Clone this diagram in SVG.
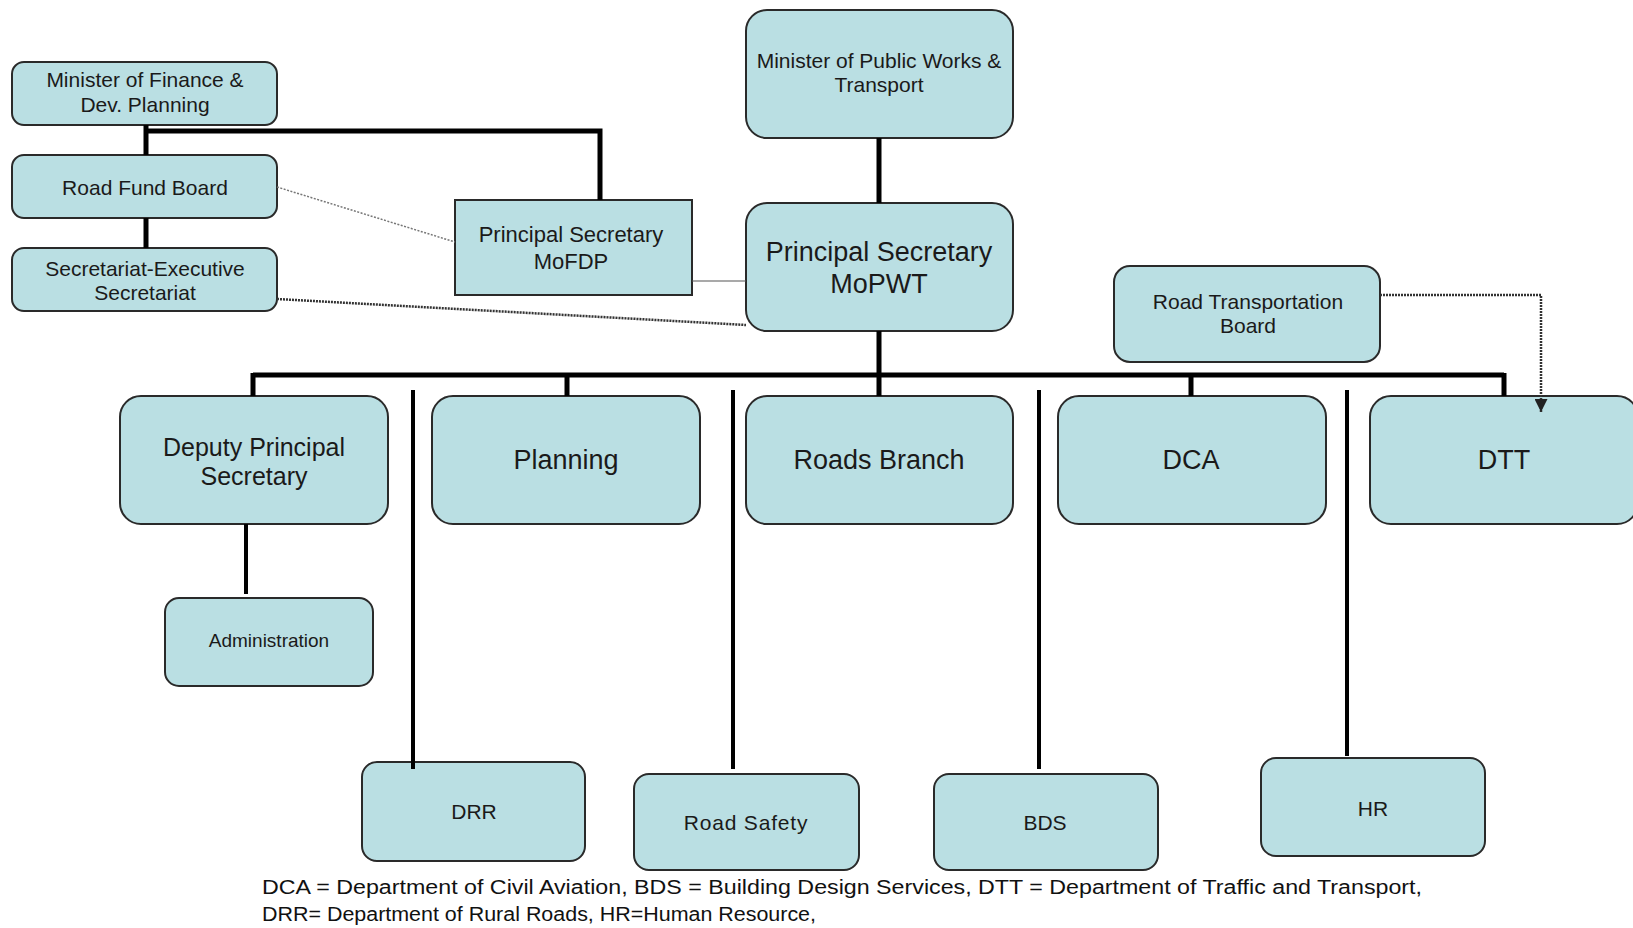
<svg xmlns="http://www.w3.org/2000/svg" width="1633" height="928" viewBox="0 0 1633 928">
<style>
.box{fill:#badfe3;stroke:#2a2a2a;stroke-width:2}
.t{font-family:"Liberation Sans",Arial,sans-serif;fill:#1a1a1a;text-anchor:middle}
.s{font-size:19px}
.m{font-size:21px}
.thick{stroke:#000;stroke-width:5;fill:none}
.vl{stroke:#000;stroke-width:4;fill:none}
.thin{stroke:#555;stroke-width:1.2;fill:none}
.dot1{stroke:#777;stroke-width:1.5;stroke-dasharray:2 1.5;fill:none}
.dot2{stroke:#333;stroke-width:2.5;stroke-dasharray:2 1;fill:none}
.foot{font-family:"Liberation Sans",Arial,sans-serif;font-size:20px;fill:#111}
</style>
<defs>
<marker id="arr" viewBox="0 0 10 10" refX="10" refY="5" markerWidth="14" markerHeight="13" orient="auto" markerUnits="userSpaceOnUse">
<path d="M0,0 L10,5 L0,10 z" fill="#222"/>
</marker>
</defs>
<rect width="1633" height="928" fill="#fff"/>
<g id="minister-finance"><rect class="box" x="12" y="62" width="265" height="63" rx="12"/><text class="t m" x="145" y="87">Minister of Finance &amp;</text><text class="t m" x="145" y="112">Dev. Planning</text></g>
<g id="road-fund-board"><rect class="box" x="12" y="155" width="265" height="63" rx="12"/><text class="t m" x="145" y="195">Road Fund Board</text></g>
<g id="secretariat"><rect class="box" x="12" y="248" width="265" height="63" rx="12"/><text class="t m" x="145" y="276">Secretariat-Executive</text><text class="t m" x="145" y="300">Secretariat</text></g>
<g id="ps-mofdp"><rect class="box" x="455" y="200" width="237" height="95"/><text class="t" font-size="22" x="571" y="242">Principal Secretary</text><text class="t" font-size="22" x="571" y="269">MoFDP</text></g>
<g id="minister-pwt"><rect class="box" x="746" y="10" width="267" height="128" rx="21"/><text class="t m" x="879" y="68">Minister of Public Works &amp;</text><text class="t m" x="879" y="92">Transport</text></g>
<g id="ps-mopwt"><rect class="box" x="746" y="203" width="267" height="128" rx="21"/><text class="t" font-size="27" x="879" y="261">Principal Secretary</text><text class="t" font-size="27" x="879" y="293">MoPWT</text></g>
<g id="rtb"><rect class="box" x="1114" y="266" width="266" height="96" rx="16"/><text class="t m" x="1248" y="309">Road Transportation</text><text class="t m" x="1248" y="333">Board</text></g>
<g id="deputy"><rect class="box" x="120" y="396" width="268" height="128" rx="21"/><text class="t" font-size="25" x="254" y="456">Deputy Principal</text><text class="t" font-size="25" x="254" y="485">Secretary</text></g>
<g id="planning"><rect class="box" x="432" y="396" width="268" height="128" rx="21"/><text class="t" font-size="27" x="566" y="469">Planning</text></g>
<g id="roads-branch"><rect class="box" x="746" y="396" width="267" height="128" rx="21"/><text class="t" font-size="27" x="879" y="469">Roads Branch</text></g>
<g id="dca"><rect class="box" x="1058" y="396" width="268" height="128" rx="21"/><text class="t" font-size="27" x="1191" y="469">DCA</text></g>
<g id="dtt"><rect class="box" x="1370" y="396" width="268" height="128" rx="21"/><text class="t" font-size="27" x="1504" y="469">DTT</text></g>
<g id="administration"><rect class="box" x="165" y="598" width="208" height="88" rx="14"/><text class="t s" x="269" y="647">Administration</text></g>
<g id="drr"><rect class="box" x="362" y="762" width="223" height="99" rx="15"/><text class="t m" x="474" y="819">DRR</text></g>
<g id="road-safety"><rect class="box" x="634" y="774" width="225" height="96" rx="15"/><text class="t m" x="746" y="830" letter-spacing="0.8">Road Safety</text></g>
<g id="bds"><rect class="box" x="934" y="774" width="224" height="96" rx="15"/><text class="t m" x="1045" y="830">BDS</text></g>
<g id="hr"><rect class="box" x="1261" y="758" width="224" height="98" rx="15"/><text class="t m" x="1373" y="816">HR</text></g>
<g id="connectors">
<path class="thick" d="M146,125 V155 M146,131 H600 V200"/>
<path class="thick" d="M146,218 V248"/>
<path class="thick" d="M879,138 V203"/>
<path class="thick" d="M879,331 V375 M253,375 H1504 M253,373 V396 M567,375 V396 M879,375 V396 M1191,375 V396 M1504,373 V396"/>
<path class="vl" d="M246,524 V594"/>
<path class="vl" d="M413,390 V769"/>
<path class="vl" d="M733,390 V769"/>
<path class="vl" d="M1039,390 V769"/>
<path class="vl" d="M1347,390 V756"/>
<path class="dot1" d="M277,187 L455,242"/>
<path class="thin" d="M692,281 H746"/>
<path class="dot2" d="M277,299 L746,325"/>
<path class="dot2" d="M1380,295 H1541 V412" marker-end="url(#arr)"/>
</g>
<g id="footnote">
<text class="foot" x="262" y="894" textLength="1160" lengthAdjust="spacingAndGlyphs">DCA = Department of Civil Aviation, BDS = Building Design Services, DTT = Department of Traffic and Transport,</text>
<text class="foot" x="262" y="921" textLength="554" lengthAdjust="spacingAndGlyphs">DRR= Department of Rural Roads, HR=Human Resource,</text>
</g>
</svg>
